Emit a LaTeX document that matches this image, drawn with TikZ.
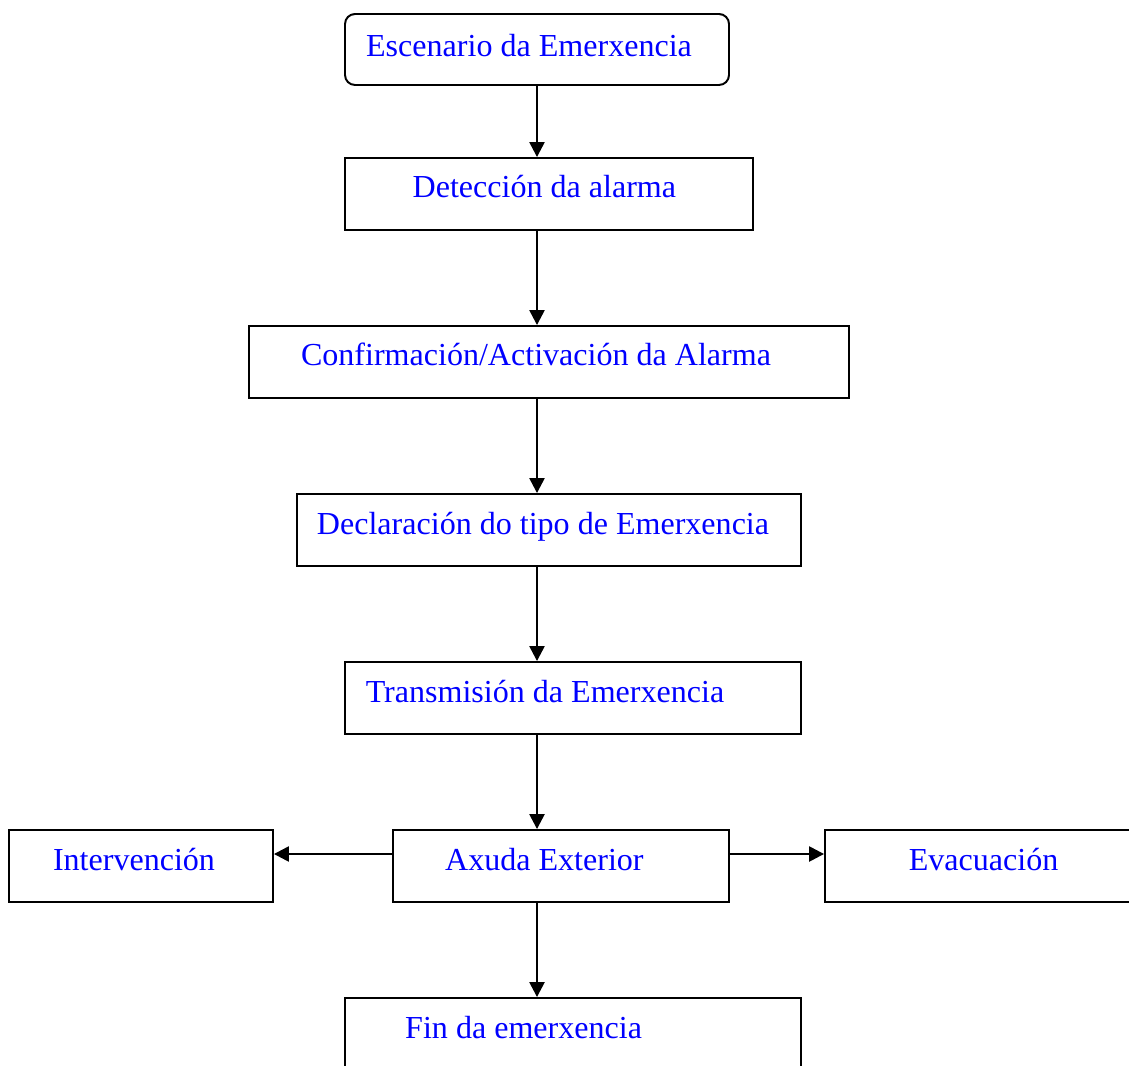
\documentclass[tikz,border=0pt]{standalone}
\usepackage{fontspec}
\setmainfont{Liberation Serif}
\usepackage{tikz}
\usetikzlibrary{arrows.meta}
\definecolor{tt}{RGB}{0,0,255}
\tikzset{caja/.style={draw, line width=1.4pt, inner sep=0pt, minimum height=1.8cm},
  flecha/.style={-{Triangle[length=0.375cm,width=0.38cm]}, line width=1.4pt},
  rotulo/.style={text=tt, font=\fontsize{22.8}{27}\selectfont, inner sep=0pt, anchor=base}}

\begin{document}
\begin{tikzpicture}
\useasboundingbox (0,0) rectangle (28.225,-26.65);
% caixas
\node[caja, rounded corners=0.25cm, minimum width=9.6cm, minimum height=1.775cm] (esc) at (13.425,-1.2375) {};
\node[caja, minimum width=10.2cm] (det) at (13.725,-4.85) {};
\node[caja, minimum width=15cm] (con) at (13.725,-9.05) {};
\node[caja, minimum width=12.6cm] (dec) at (13.725,-13.25) {};
\node[caja, minimum width=11.4cm] (tra) at (14.325,-17.45) {};
\node[caja, minimum width=8.4cm] (axu) at (14.025,-21.65) {};
\node[caja, minimum width=6.6cm] (int) at (3.525,-21.65) {};
\node[caja, minimum width=7.75cm] (eva) at (24.5,-21.65) {};
\node[caja, minimum width=11.4cm, minimum height=2.05cm] (fin) at (14.325,-25.975) {};
% textos
\node[rotulo] (tesc) at (13.225,-1.42) {Escenario da Emerxencia};
\node[rotulo] (tdet) at (13.61,-4.95) {Detección da alarma};
\node[rotulo] (tcon) at (13.4,-9.15) {Confirmación/Activación da Alarma};
\node[rotulo] (tdec) at (13.575,-13.35) {Declaración do tipo de Emerxencia};
\node[rotulo] (ttra) at (13.625,-17.55) {Transmisión da Emerxencia};
\node[rotulo] (taxu) at (13.61,-21.75) {Axuda Exterior};
\node[rotulo] (tint) at (3.35,-21.75) {Intervención};
\node[rotulo] (teva) at (24.59,-21.75) {Evacuación};
\node[rotulo] (tfin) at (13.09,-25.95) {Fin da emerxencia};
% frechas
\draw[flecha] (esc.south) -- (esc.south |- det.north);
\draw[flecha] (esc.south |- det.south) -- (esc.south |- con.north);
\draw[flecha] (esc.south |- con.south) -- (esc.south |- dec.north);
\draw[flecha] (esc.south |- dec.south) -- (esc.south |- tra.north);
\draw[flecha] (esc.south |- tra.south) -- (esc.south |- axu.north);
\draw[flecha] (esc.south |- axu.south) -- (esc.south |- fin.north);
\draw[flecha] ([yshift=0.3cm]axu.west) -- ([yshift=0.3cm]int.east);
\draw[flecha] ([yshift=0.3cm]axu.east) -- ([yshift=0.3cm]eva.west);
\end{tikzpicture}
\end{document}
